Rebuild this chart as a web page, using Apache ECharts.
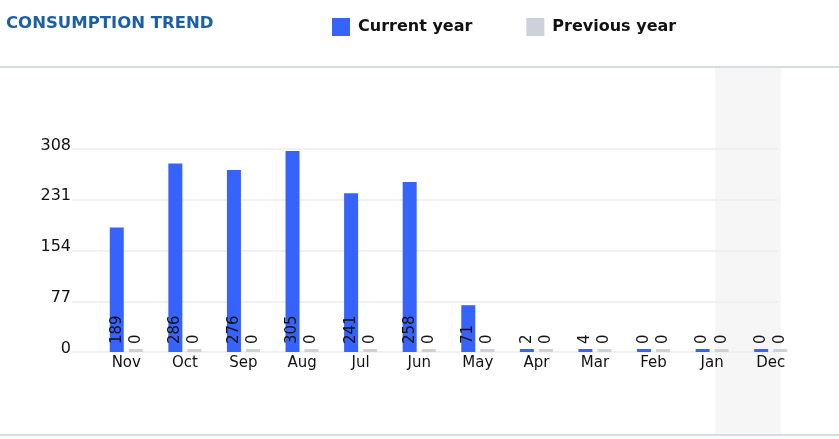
<!DOCTYPE html>
<html><head><meta charset="utf-8">
<script src="https://cdn.jsdelivr.net/npm/echarts@6/dist/echarts.min.js"></script>
<style>html,body{margin:0;padding:0;background:#fff}#c{width:839px;height:439px}</style>
</head><body><div id="c"></div>
<script>
var months = ['Nov','Oct','Sep','Aug','Jul','Jun','May','Apr','Mar','Feb','Jan','Dec'];
var currentYear = [189,286,276,305,241,258,71,2,4,0,0,0];
var previousYear = [0,0,0,0,0,0,0,0,0,0,0,0];
var yTicks = [0,77,154,231,308];
var FONT = 'DejaVu Sans';
var chart = echarts.init(document.getElementById('c'));
var labelCfg = {show:true, position:'insideBottom', rotate:90, align:'left', verticalAlign:'middle', distance:8, color:'#111', fontSize:15, fontFamily:FONT};
chart.setOption({
  backgroundColor:'#fff',
  animation:false,
  textStyle:{fontFamily:FONT},
  graphic:[
    {type:'rect', z:-10, shape:{x:715,y:68,width:66,height:366}, style:{fill:'#f6f6f6'}},
    {type:'rect', z:-10, shape:{x:0,y:66,width:839,height:2}, style:{fill:'#d3dfdf'}},
    {type:'rect', z:-10, shape:{x:0,y:434,width:839,height:2}, style:{fill:'#d3dfdf'}},
    {type:'text', left:6, top:15, style:{text:'CONSUMPTION TREND', fill:'#1c5fa9', font:'bold 16.5px "DejaVu Sans"'}}
  ],
  legend:{left:327, top:13, itemWidth:18, itemHeight:18, itemGap:54, icon:'rect',
    textStyle:{fontSize:16, fontWeight:'bold', color:'#111', fontFamily:FONT, padding:[0,0,0,3]},
    data:['Current year','Previous year']},
  grid:[
    {left:72, right:61, top:149, bottom:87},
    {left:97, right:39, top:149, bottom:87}
  ],
  xAxis:[
    {type:'category', gridIndex:0, data:months, show:false},
    {type:'category', gridIndex:1, data:months, axisLine:{show:false}, axisTick:{show:false},
     axisLabel:{color:'#111', fontSize:15, fontFamily:FONT, margin:4}}
  ],
  yAxis:[
    {type:'value', gridIndex:0, min:yTicks[0], max:yTicks[yTicks.length-1], interval:yTicks[1]-yTicks[0],
     axisLine:{show:false}, axisTick:{show:false},
     axisLabel:{color:'#111', fontSize:16, fontFamily:FONT, margin:1, verticalAlign:'bottom', lineHeight:7},
     splitLine:{lineStyle:{color:'#ececec', width:1.5}}},
    {type:'value', gridIndex:1, min:yTicks[0], max:yTicks[yTicks.length-1], interval:yTicks[1]-yTicks[0], show:false, splitLine:{show:false}}
  ],
  series:[
    {name:'Current year', type:'bar', xAxisIndex:1, yAxisIndex:1, data:currentYear, barWidth:14, barGap:'36%', barMinHeight:3,
     itemStyle:{color:'#3563fb'}, label:labelCfg},
    {name:'Previous year', type:'bar', xAxisIndex:1, yAxisIndex:1, data:previousYear, barWidth:14, barMinHeight:3,
     itemStyle:{color:'#cdd1d9'}, label:labelCfg}
  ]
});
</script></body></html>
